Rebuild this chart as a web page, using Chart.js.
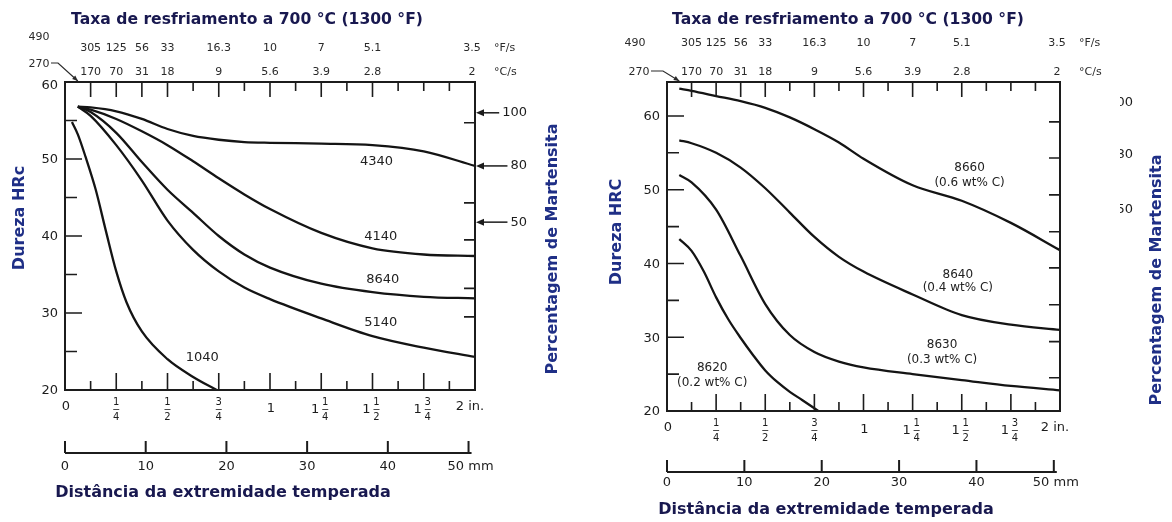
<!DOCTYPE html>
<html lang="pt">
<head>
<meta charset="utf-8">
<title>Curvas Jominy</title>
<script src="https://cdn.jsdelivr.net/npm/chart.js@4.4.1/dist/chart.umd.min.js"></script>
<style>
  html, body { margin: 0; padding: 0; background: #fff; }
  #wrap { position: relative; width: 1172px; height: 522px; overflow: hidden; }
  canvas { position: absolute; top: 0; }
  #left { left: 0; }
  #right { left: 586px; }
</style>
</head>
<body>
<div id="wrap">
  <canvas id="left" width="586" height="522"></canvas>
  <canvas id="right" width="586" height="522"></canvas>
</div>
<script>
// distance from quenched end (in.)
const distIn = [0.0625, 0.125, 0.25, 0.375, 0.5, 0.625, 0.75, 0.875, 1, 1.25, 1.5, 1.75, 2];
const dist1040 = [0.034, 0.0625, 0.1, 0.15, 0.2, 0.25, 0.3, 0.375, 0.5, 0.625, 0.74];
const dist8620 = [0.0625, 0.125, 0.1875, 0.25, 0.3125, 0.375, 0.4375, 0.5, 0.5625, 0.625, 0.6875, 0.77];

// left chart: HRc
const hrc4340 = [56.8, 56.7, 56.2, 55.2, 53.9, 53.0, 52.5, 52.2, 52.1, 52.0, 51.8, 51.0, 49.1];
const hrc4140 = [56.8, 56.4, 55.2, 53.6, 51.8, 49.7, 47.5, 45.4, 43.5, 40.4, 38.4, 37.6, 37.4];
const hrc8640 = [56.8, 56.1, 53.4, 49.6, 46.0, 43.0, 40.0, 37.6, 35.9, 33.8, 32.7, 32.1, 31.9];
const hrc5140 = [56.8, 55.6, 51.8, 47.2, 42.0, 38.2, 35.4, 33.3, 31.8, 29.3, 27.0, 25.5, 24.3];
const hrc1040 = [54.8, 53.2, 50.3, 46.0, 40.6, 35.4, 31.4, 27.6, 24.0, 21.7, 20.0];

// right chart: HRC
const hrc8660 = [63.7, 63.4, 62.7, 62.0, 61.1, 59.8, 58.2, 56.4, 54.2, 50.6, 48.5, 45.5, 41.8];
const hrc8640b = [56.7, 56.3, 55.0, 53.0, 50.2, 46.9, 43.6, 40.9, 38.9, 35.8, 33.0, 31.7, 31.0];
const hrc8630 = [52.0, 51.0, 47.3, 41.0, 34.5, 30.3, 28.0, 26.7, 25.9, 25.0, 24.2, 23.4, 22.8];
const hrc8620 = [43.3, 41.7, 38.9, 35.4, 32.4, 29.9, 27.6, 25.5, 23.9, 22.6, 21.5, 20.0];

// axis labels
const inchPos = [0, 0.25, 0.5, 0.75, 1, 1.25, 1.5, 1.75, 2];
const inchLabels = ['0', '1/4', '1/2', '3/4', '1', '1 1/4', '1 1/2', '1 3/4', '2 in.'];
const mmPos = [0, 10, 20, 30, 40, 50];
const mmLabels = ['0', '10', '20', '30', '40', '50 mm'];
const ratePos = [0.125, 0.25, 0.375, 0.5, 0.75, 1, 1.25, 1.5, 2];
const rateF = ['305', '125', '56', '33', '16.3', '10', '7', '5.1', '3.5'];
const rateC = ['170', '70', '31', '18', '9', '5.6', '3.9', '2.8', '2'];
const hrcTicks = [20, 30, 40, 50, 60];

// % martensite marks
const martLeftVals = [56.0, 49.1, 41.8];
const martLabels = ['100', '80', '50'];
const martLeftTicks = [54.7, 44.3, 39.5, 33.2, 29.5];
const martRightVals = [61.8, 54.7, 47.3];
const martRightTicks = [59.2, 54.3, 49.3, 44.3, 39.4, 34.4, 29.4, 24.5];

const FONT = '"DejaVu Sans", Verdana, sans-serif';
const INK = '#1c1c1c';
const NAVY = '#18184f';
const BLUE = '#1f2f86';

const pts = (xs, ys) => ys.map((y, i) => ({ x: xs[i], y }));

function drawFrac(ctx, x, y, num, den) {
  ctx.font = '10px ' + FONT;
  ctx.textAlign = 'center';
  ctx.fillText(num, x, y - 7);
  ctx.fillText(den, x, y + 8);
  ctx.beginPath();
  ctx.moveTo(x - 3, y + 0.5);
  ctx.lineTo(x + 3, y + 0.5);
  ctx.lineWidth = 0.8;
  ctx.stroke();
}

function vText(ctx, txt, x, y) {
  ctx.save();
  ctx.translate(x, y);
  ctx.rotate(-Math.PI / 2);
  ctx.textAlign = 'center';
  ctx.fillText(txt, 0, 0);
  ctx.restore();
}

const jominyDecor = {
  id: 'jominyDecor',
  afterDraw(chart, args, o) {
    const ctx = chart.ctx;
    const a = chart.chartArea;
    const X = v => chart.scales.x.getPixelForValue(v);
    const Y = v => chart.scales.y.getPixelForValue(v);
    ctx.save();
    ctx.strokeStyle = INK;
    ctx.fillStyle = INK;
    ctx.textBaseline = 'middle';

    // frame
    ctx.lineWidth = 2;
    ctx.strokeRect(a.left, a.top, a.right - a.left, a.bottom - a.top);

    // ticks along top and bottom (every 1/8 in.)
    ctx.lineWidth = 1.6;
    ctx.beginPath();
    for (let k = 1; k < 16; k++) {
      const v = k / 8, x = X(v);
      const bl = (k % 2 === 0) ? 17 : 9;
      ctx.moveTo(x, a.bottom); ctx.lineTo(x, a.bottom - bl);
      const tl = ratePos.includes(v) ? 15 : 9;
      ctx.moveTo(x, a.top); ctx.lineTo(x, a.top + tl);
    }
    // left ticks
    for (let v = 25; v < chart.scales.y.max; v += 5) {
      const y = Y(v);
      ctx.moveTo(a.left, y); ctx.lineTo(a.left + (v % 10 === 0 ? 17 : 12), y);
    }
    // right ticks
    o.rightTicks.forEach(v => {
      const y = Y(v);
      ctx.moveTo(a.right, y); ctx.lineTo(a.right - 11, y);
    });
    ctx.stroke();

    // HRc labels
    ctx.font = '13px ' + FONT;
    ctx.textAlign = 'right';
    hrcTicks.forEach(v => {
      if (v <= chart.scales.y.max) ctx.fillText(String(v), a.left - 7, Y(v) + (v === 60 && o.topIs60 ? 4 : 1));
    });

    // inch labels
    const ly = a.bottom + 17;
    inchPos.forEach((v, i) => {
      const lab = inchLabels[i], x = X(v);
      if (lab.includes('/')) {
        const parts = lab.split(' ');
        const f = parts[parts.length - 1].split('/');
        if (parts.length > 1) {
          ctx.font = '13px ' + FONT;
          ctx.textAlign = 'center';
          ctx.fillText(parts[0], x - 6, ly + 3);
          drawFrac(ctx, x + 4, ly + 2, f[0], f[1]);
        } else {
          drawFrac(ctx, x, ly + 2, f[0], f[1]);
        }
      } else {
        ctx.font = '13px ' + FONT;
        ctx.textAlign = 'center';
        ctx.fillText(lab, lab.endsWith('in.') ? x - 5 : x + 1, lab === '1' ? ly + 2 : ly);
      }
    });

    // mm scale
    const mmX = mm => X(mm / 25.4);
    ctx.lineWidth = 2;
    ctx.beginPath();
    ctx.moveTo(mmX(0), o.mmY); ctx.lineTo(mmX(50) + 3, o.mmY);
    mmPos.forEach(mm => { ctx.moveTo(mmX(mm), o.mmY); ctx.lineTo(mmX(mm), o.mmY - 12); });
    ctx.stroke();
    ctx.font = '13px ' + FONT;
    ctx.textAlign = 'center';
    mmPos.forEach((mm, i) => ctx.fillText(mmLabels[i], mmX(mm) + (i === 5 ? 2 : 0), o.mmLabelY));

    // cooling rate labels on top
    ctx.fillStyle = '#2a2a2a';
    ctx.font = '11px ' + FONT;
    ratePos.forEach((v, i) => {
      const x = X(v) - (v === 2 ? 3 : 0);
      ctx.fillText(rateF[i], x, o.row1Y);
      ctx.fillText(rateC[i], x, o.row2Y);
    });
    ctx.textAlign = 'left';
    ctx.fillText('\u00B0F/s', a.right + 19, o.row1Y);
    ctx.fillText('\u00B0C/s', a.right + 19, o.row2Y);
    ctx.textAlign = 'center';
    ctx.fillText('490', o.r490[0], o.r490[1]);
    ctx.fillText('270', o.r270[0], o.r270[1]);
    // arrow from 270 to the 1/16 in. position
    const tipX = X(0.0625), tipY = a.top;
    const sx = o.r270[0] + 12, sy = o.r270[1] - 1;
    ctx.strokeStyle = '#2a2a2a';
    ctx.lineWidth = 1.2;
    ctx.beginPath();
    ctx.moveTo(sx, sy); ctx.lineTo(sx + o.bend, sy); ctx.lineTo(tipX, tipY - 1);
    ctx.stroke();
    const ang = Math.atan2(tipY - 1 - sy, tipX - sx - o.bend);
    ctx.beginPath();
    ctx.moveTo(tipX, tipY - 1);
    ctx.lineTo(tipX - 6 * Math.cos(ang - 0.4), tipY - 1 - 6 * Math.sin(ang - 0.4));
    ctx.lineTo(tipX - 6 * Math.cos(ang + 0.4), tipY - 1 - 6 * Math.sin(ang + 0.4));
    ctx.closePath();
    ctx.fill();

    // martensite arrows / clipped labels
    ctx.fillStyle = INK;
    ctx.strokeStyle = INK;
    ctx.font = '13px ' + FONT;
    if (o.martArrows) {
      martLeftVals.forEach((v, i) => {
        const y = Y(v);
        const tx = a.right + 52;
        ctx.textAlign = 'right';
        ctx.fillText(martLabels[i], tx, y);
        const w = ctx.measureText(martLabels[i]).width;
        ctx.lineWidth = 1.5;
        ctx.beginPath();
        ctx.moveTo(tx - w - 3, y); ctx.lineTo(a.right + 6, y);
        ctx.stroke();
        ctx.beginPath();
        ctx.moveTo(a.right + 1, y); ctx.lineTo(a.right + 9, y - 3.5); ctx.lineTo(a.right + 9, y + 3.5);
        ctx.closePath(); ctx.fill();
      });
    }
    if (o.martClipped) {
      ctx.save();
      ctx.beginPath();
      ctx.rect(o.clipX, 0, 100, chart.height);
      ctx.clip();
      ctx.textAlign = 'right';
      martRightVals.forEach((v, i) => ctx.fillText(martLabels[i], o.clipX + 13, Y(v)));
      ctx.restore();
    }

    // curve labels
    ctx.fillStyle = '#222';
    ctx.textAlign = 'center';
    o.curveLabels.forEach(c => {
      ctx.font = c.size + 'px ' + FONT;
      ctx.fillText(c.t, X(c.x), Y(c.y));
    });

    // titles
    ctx.font = 'bold 15.6px ' + FONT;
    ctx.fillStyle = NAVY;
    ctx.textAlign = 'center';
    ctx.fillText('Taxa de resfriamento a 700 \u00B0C (1300 \u00B0F)', o.titleX, 20);
    ctx.font = 'bold 16px ' + FONT;
    ctx.fillText('Dist\u00E2ncia da extremidade temperada', o.xTitleX, o.xTitleY);
    ctx.fillStyle = BLUE;
    vText(ctx, o.yTitle, o.yTitleX, o.yTitleY);
    vText(ctx, 'Percentagem de Martensita', o.rTitleX, o.rTitleY);
    ctx.restore();
  }
};

function makeChart(id, datasets, yMax, pad, decor) {
  return new Chart(document.getElementById(id), {
    type: 'line',
    data: { datasets },
    options: {
      responsive: false,
      animation: false,
      devicePixelRatio: 1,
      layout: { padding: pad },
      elements: { point: { radius: 0 } },
      plugins: { legend: { display: false }, tooltip: { enabled: false }, jominyDecor: decor },
      scales: {
        x: { type: 'linear', min: 0, max: 2, display: false },
        y: { type: 'linear', min: 20, max: yMax, display: false }
      }
    },
    plugins: [jominyDecor]
  });
}

const curve = (xs, ys) => ({
  data: pts(xs, ys),
  borderColor: '#141414',
  borderWidth: 2.3,
  cubicInterpolationMode: 'monotone',
  fill: false
});

makeChart('left', [
  curve(distIn, hrc4340),
  curve(distIn, hrc4140),
  curve(distIn, hrc8640),
  curve(distIn, hrc5140),
  curve(dist1040, hrc1040)
], 60, { left: 65, top: 82, right: 111, bottom: 132 }, {
  rightTicks: martLeftTicks,
  topIs60: true,
  mmY: 453, mmLabelY: 467,
  row1Y: 48, row2Y: 72, r490: [39, 37], r270: [39, 64], bend: 7,
  martArrows: true, martClipped: false,
  curveLabels: [
    { t: '4340', x: 1.52, y: 49.6, size: 13 },
    { t: '4140', x: 1.54, y: 39.9, size: 13 },
    { t: '8640', x: 1.55, y: 34.3, size: 13 },
    { t: '5140', x: 1.54, y: 28.7, size: 13 },
    { t: '1040', x: 0.67, y: 24.2, size: 13 }
  ],
  titleX: 247, xTitleX: 223, xTitleY: 493,
  yTitle: 'Dureza HRc', yTitleX: 20, yTitleY: 218,
  rTitleX: 553, rTitleY: 249
});

makeChart('right', [
  curve(distIn, hrc8660),
  curve(distIn, hrc8640b),
  curve(distIn, hrc8630),
  curve(dist8620, hrc8620)
], 64.6, { left: 81, top: 82, right: 112, bottom: 111 }, {
  rightTicks: martRightTicks,
  topIs60: false,
  mmY: 472, mmLabelY: 483,
  row1Y: 43, row2Y: 72, r490: [49, 43], r270: [53, 72], bend: 12,
  martArrows: false, martClipped: true, clipX: 534,
  curveLabels: [
    { t: '8660', x: 1.54, y: 52.9, size: 12 },
    { t: '(0.6 wt% C)', x: 1.54, y: 50.9, size: 12 },
    { t: '8640', x: 1.48, y: 38.4, size: 12 },
    { t: '(0.4 wt% C)', x: 1.48, y: 36.7, size: 12 },
    { t: '8630', x: 1.40, y: 28.9, size: 12 },
    { t: '(0.3 wt% C)', x: 1.40, y: 26.9, size: 12 },
    { t: '8620', x: 0.23, y: 25.8, size: 12 },
    { t: '(0.2 wt% C)', x: 0.23, y: 23.8, size: 12 }
  ],
  titleX: 262, xTitleX: 240, xTitleY: 510,
  yTitle: 'Dureza HRC', yTitleX: 31, yTitleY: 232,
  rTitleX: 571, rTitleY: 280
});
</script>
</body>
</html>
